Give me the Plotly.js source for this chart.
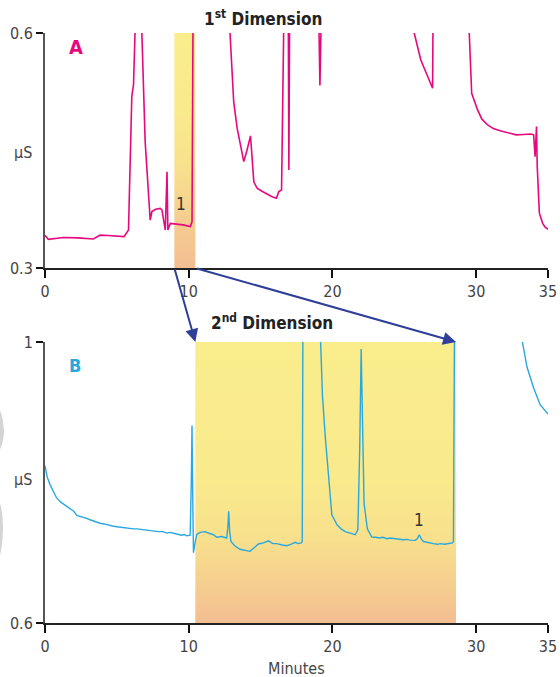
<!DOCTYPE html>
<html>
<head>
<meta charset="utf-8">
<script src="https://cdn.plot.ly/plotly-3.0.1.min.js"></script>
<style>
html,body{margin:0;padding:0;background:#fff;}
#chart{width:560px;height:677px;}
</style>
</head>
<body>
<div id="chart"></div>
<script>
// ---- Data ----
// 1st dimension (A): minutes and µS
var timeA = [
  0, 0.23, 1.28, 2.3, 3.37, 3.83, 4.4, 5.0, 5.5, 5.81,
  6.04, 6.16, 6.32, 6.5, 6.74, 6.97, 7.32, 7.44, 7.7, 8.02,
  8.14, 8.37, 8.49, 8.55, 8.72, 9.18, 9.6, 10.11, 10.23, 10.3,
  11.0, 12.0, 12.85, 13.13, 13.37, 13.6, 13.83, 14.05, 14.3, 14.53,
  14.76, 15.1, 15.46, 15.8, 16.1, 16.27, 16.46, 16.62, 16.75, 16.93,
  16.97, 17.02, 18.0, 19.05, 19.13, 19.22, 22.0, 25.69, 26.15, 26.6,
  26.97, 27.0, 28.0, 29.52, 29.69, 30.1, 30.4, 30.8, 31.2, 31.73,
  32.3, 32.78, 33.3, 33.8, 34.0, 34.1, 34.2, 34.25, 34.4, 34.63,
  34.8, 35.0
];
var signalA = [
  0.3418, 0.3366, 0.339, 0.3385, 0.337, 0.342, 0.3415, 0.341, 0.340, 0.3485,
  0.519, 0.534, 0.60, 0.75, 0.60, 0.461, 0.361, 0.372, 0.375, 0.376,
  0.374, 0.3485, 0.423, 0.3485, 0.357, 0.356, 0.355, 0.353, 0.359, 0.62,
  1.2, 0.9, 0.60, 0.512, 0.4785, 0.455, 0.4358, 0.45, 0.4686, 0.410,
  0.4018, 0.398, 0.394, 0.391, 0.389, 0.3975, 0.3996, 0.62, 0.9, 0.62,
  0.425, 0.62, 1.0, 0.62, 0.533, 0.62, 1.0, 0.60, 0.5656, 0.545,
  0.5295, 0.62, 0.9, 0.60, 0.523, 0.5018, 0.49, 0.4826, 0.478, 0.475,
  0.472, 0.470, 0.4705, 0.471, 0.470, 0.442, 0.4805, 0.43, 0.370, 0.357,
  0.352, 0.3494
];

// 2nd dimension (B): minutes and µS
var timeB = [
  0, 0.15, 0.35, 0.6, 0.81, 1.1, 1.3, 1.51, 1.8, 2.0,
  2.21, 2.6, 2.9, 3.13, 3.5, 3.83, 4.1, 4.4, 4.7, 5.0,
  5.3, 5.6, 5.9, 6.16, 6.4, 6.7, 7.0, 7.32, 7.6, 7.9,
  8.2, 8.47, 8.7, 9.0, 9.3, 9.5, 9.7, 9.86, 10.1, 10.18,
  10.23, 10.28, 10.33, 10.45, 10.56, 10.8, 11.13, 11.5, 11.7, 11.95,
  12.3, 12.64, 12.72, 12.78, 12.85, 12.94, 13.2, 13.57, 13.9, 14.27,
  14.55, 14.85, 15.2, 15.55, 15.85, 16.13, 16.5, 16.83, 17.1, 17.41,
  17.6, 17.83, 17.9, 17.95, 18.5, 19.2, 19.31, 19.5, 19.73, 19.96,
  20.31, 20.6, 20.89, 21.2, 21.59, 21.77, 21.9, 22.0, 22.1, 22.2,
  22.43, 22.74, 23.0, 23.3, 23.5, 23.8, 24.0, 24.3, 24.5, 24.95,
  25.2, 25.4, 25.76, 25.9, 26.04, 26.2, 26.34, 26.7, 27.03, 27.3,
  27.5, 27.8, 27.96, 28.2, 28.35, 28.42, 28.5, 30.5, 33.22, 33.53,
  34.0, 34.45, 35.0
];
var signalB = [
  0.824, 0.808, 0.797, 0.786, 0.778, 0.772, 0.769, 0.766, 0.761, 0.759,
  0.753, 0.751, 0.749, 0.747, 0.744, 0.742, 0.741, 0.739, 0.738, 0.737,
  0.736, 0.735, 0.735, 0.734, 0.734, 0.733, 0.733, 0.732, 0.731, 0.730,
  0.730, 0.728, 0.729, 0.727, 0.726, 0.725, 0.726, 0.724, 0.725, 0.80,
  0.881, 0.78, 0.700, 0.715, 0.726, 0.729, 0.730, 0.727, 0.726, 0.722,
  0.723, 0.721, 0.735, 0.759, 0.73, 0.716, 0.71, 0.705, 0.704, 0.702,
  0.707, 0.7125, 0.714, 0.717, 0.713, 0.713, 0.711, 0.710, 0.712, 0.7148,
  0.713, 0.714, 0.716, 1.05, 1.4, 1.0, 0.9226, 0.8656, 0.804, 0.754,
  0.740, 0.734, 0.730, 0.728, 0.7257, 0.733, 0.85, 0.990, 0.90, 0.771,
  0.734, 0.7224, 0.722, 0.721, 0.722, 0.720, 0.721, 0.720, 0.720, 0.7186,
  0.719, 0.718, 0.7176, 0.720, 0.7257, 0.719, 0.716, 0.714, 0.713, 0.712,
  0.713, 0.712, 0.7125, 0.713, 0.714, 0.716, 1.05, 1.5, 1.0, 0.965,
  0.9345, 0.9107, 0.8975
];

// heart-cut windows (minutes)
var cutWindow1D = [9.0, 10.46];
var cutWindow2D = [10.46, 28.6];

// axis ticks
var xTicks = [0, 10, 20, 30, 35];
var xTickText = ['0', '10', '20', '30', '35'];
var yTicksA = [0.3, 0.6];
var yTickTextA = ['0.3', '0.6'];
var yTicksB = [0.6, 1];
var yTickTextB = ['0.6', '1'];
var rangeA = [0.3, 0.6];
var rangeB = [0.6, 1];
var rangeX = [0, 35];

// peak label
var peakLabel = '1';
var peakA = [9.48, 0.382];
var peakB = [26.0, 0.746];

// ---- Styling ----
var FONT = '"DejaVu Sans Condensed", "DejaVu Sans", sans-serif';
var magenta = '#e6087f';
var cyan = '#29a8e0';
var arrowBlue = '#2f3e98';

var topDomain = [0.6017, 1];
var botDomain = [0, 0.4763];

function band(win, range, xa, ya, scale) {
  return {
    x: [win[0], win[0], win[1], win[1], win[0]],
    y: [range[0], range[1], range[1], range[0], range[0]],
    xaxis: xa, yaxis: ya,
    mode: 'lines', fill: 'toself', line: {width: 0},
    fillgradient: {type: 'vertical', colorscale: scale},
    hoverinfo: 'skip', showlegend: false
  };
}

var traces = [
  band(cutWindow1D, rangeA, 'x', 'y', [[0, '#f3bd92'], [0.2, '#f5cd8f'], [0.45, '#f8e28c'], [0.65, '#f9ea8c'], [1, '#faed8c']]),
  band(cutWindow2D, rangeB, 'x2', 'y2', [[0, '#f3bd92'], [0.12, '#f5cc8f'], [0.3, '#f8e08c'], [0.5, '#f9ea8c'], [1, '#faed8c']]),
  {x: timeA, y: signalA, xaxis: 'x', yaxis: 'y', mode: 'lines',
   line: {color: magenta, width: 1.6}, hoverinfo: 'skip', showlegend: false},
  {x: timeB, y: signalB, xaxis: 'x2', yaxis: 'y2', mode: 'lines',
   line: {color: cyan, width: 1.4}, hoverinfo: 'skip', showlegend: false}
];

function xAxis(anchor) {
  return {
    anchor: anchor, domain: [0, 1], range: rangeX,
    tickmode: 'array', tickvals: xTicks, ticktext: xTickText,
    ticks: 'outside', ticklen: 8, tickwidth: 2, tickcolor: '#111',
    showline: true, linecolor: '#222', linewidth: 2,
    showgrid: false, zeroline: false,
    tickfont: {family: FONT, size: 16, color: '#444'}
  };
}
function yAxis(anchor, domain, range, tv, tt) {
  return {
    anchor: anchor, domain: domain, range: range,
    tickmode: 'array', tickvals: tv, ticktext: tt,
    ticks: 'outside', ticklen: 7, tickwidth: 2, tickcolor: '#111',
    showline: true, linecolor: '#555', linewidth: 2,
    showgrid: false, zeroline: false,
    tickfont: {family: FONT, size: 16, color: '#444'}
  };
}

var gapTail = 1 + (topDomain[0] - botDomain[1]) / (botDomain[1] - botDomain[0]);

var arrowCommon = {
  xref: 'x2', yref: 'y2 domain', axref: 'x2', ayref: 'y2 domain',
  text: '', showarrow: true, arrowhead: 2, arrowsize: 1.3, arrowwidth: 2,
  arrowcolor: arrowBlue, standoff: 0, startstandoff: 0
};

var annotations = [
  Object.assign({}, arrowCommon, {x: cutWindow2D[0], y: 1, ax: cutWindow1D[0], ay: gapTail}),
  Object.assign({}, arrowCommon, {x: cutWindow2D[1], y: 1, ax: cutWindow1D[1], ay: gapTail}),
  {xref: 'paper', yref: 'paper', x: 0.433, y: 1.003, yanchor: 'bottom', showarrow: false,
   text: '<b>1<sup>st</sup> Dimension</b>', font: {family: FONT, size: 17, color: '#222'}},
  {xref: 'paper', yref: 'paper', x: 0.452, y: botDomain[1] + 0.012, yanchor: 'bottom', showarrow: false,
   text: '<b>2<sup>nd</sup> Dimension</b>', font: {family: FONT, size: 17, color: '#222'}},
  {xref: 'x domain', yref: 'y domain', x: 0.062, y: 0.94, xanchor: 'center', yanchor: 'middle', showarrow: false,
   text: '<b>A</b>', font: {family: FONT, size: 20, color: magenta}},
  {xref: 'x2 domain', yref: 'y2 domain', x: 0.06, y: 0.915, xanchor: 'center', yanchor: 'middle', showarrow: false,
   text: '<b>B</b>', font: {family: FONT, size: 18, color: cyan}},
  {xref: 'paper', yref: 'y domain', x: -0.022, y: 0.49, xanchor: 'right', yanchor: 'middle', showarrow: false,
   text: 'µS', font: {family: FONT, size: 16, color: '#444'}},
  {xref: 'paper', yref: 'y2 domain', x: -0.022, y: 0.51, xanchor: 'right', yanchor: 'middle', showarrow: false,
   text: 'µS', font: {family: FONT, size: 16, color: '#444'}},
  {xref: 'paper', yref: 'paper', x: 0.5, y: -0.058, yanchor: 'top', showarrow: false,
   text: 'Minutes', font: {family: FONT, size: 16, color: '#444'}},
  {xref: 'x', yref: 'y', x: peakA[0], y: peakA[1], showarrow: false,
   text: peakLabel, font: {family: FONT, size: 17, color: '#333'}},
  {xref: 'x2', yref: 'y2', x: peakB[0], y: peakB[1], showarrow: false,
   text: peakLabel, font: {family: FONT, size: 17, color: '#333'}}
];

var shapes = [
  {type: 'path', xref: 'paper', yref: 'paper', layer: 'below', line: {width: 0}, fillcolor: '#d4d4d4',
   path: 'M -0.1,0.3734 Q -0.083,0.36 -0.0815,0.3242 Q -0.083,0.296 -0.1,0.2819 Z'},
  {type: 'path', xref: 'paper', yref: 'paper', layer: 'below', line: {width: 0}, fillcolor: '#d4d4d4',
   path: 'M -0.1,0.2225 Q -0.084,0.205 -0.0835,0.16 Q -0.085,0.11 -0.1,0.0937 Z'}
];

var layout = {
  width: 560, height: 677,
  margin: {l: 45, r: 12, t: 33, b: 54},
  paper_bgcolor: '#fff', plot_bgcolor: 'rgba(0,0,0,0)',
  showlegend: false, hovermode: false,
  xaxis: xAxis('y'),
  yaxis: yAxis('x', topDomain, rangeA, yTicksA, yTickTextA),
  xaxis2: xAxis('y2'),
  yaxis2: yAxis('x2', botDomain, rangeB, yTicksB, yTickTextB),
  annotations: annotations,
  shapes: shapes,
  font: {family: FONT}
};

Plotly.newPlot('chart', traces, layout, {staticPlot: true, displayModeBar: false});
</script>
</body>
</html>
